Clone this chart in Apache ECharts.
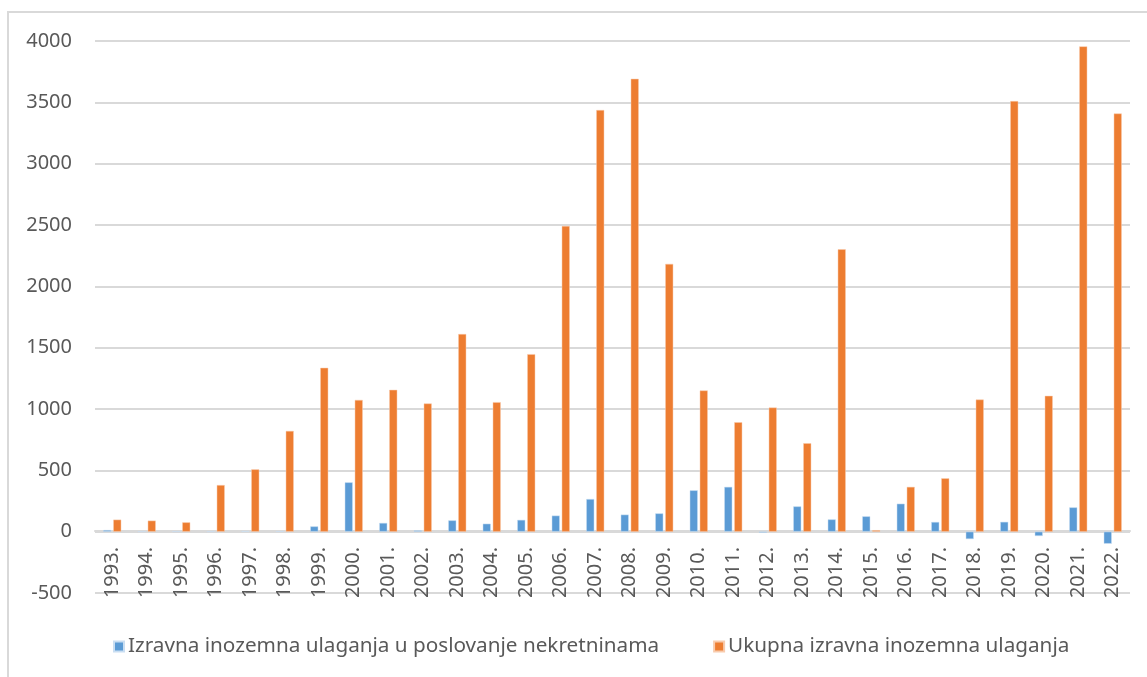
<!DOCTYPE html>
<html>
<head>
<meta charset="utf-8">
<script src="https://cdn.jsdelivr.net/npm/echarts@6/dist/echarts.min.js"></script>
<style>
  html, body { margin: 0; padding: 0; background: #fff; }
  #frame { position: absolute; left: 7px; top: 11px; width: 1160px; height: 700px; border: 2px solid #d9d9d9; box-sizing: border-box; }
  #chart { position: absolute; left: 0; top: 0; width: 1147px; height: 677px; }
</style>
</head>
<body>
<div id="frame"></div>
<div id="chart"></div>
<script>
  // godine (kategorije)
  const years = ['1993.', '1994.', '1995.', '1996.', '1997.', '1998.', '1999.', '2000.', '2001.', '2002.',
    '2003.', '2004.', '2005.', '2006.', '2007.', '2008.', '2009.', '2010.', '2011.', '2012.',
    '2013.', '2014.', '2015.', '2016.', '2017.', '2018.', '2019.', '2020.', '2021.', '2022.'];

  // ulaganja u poslovanje nekretninama (mil. EUR, očitano sa slike)
  const realEstate = [13, 0, 2, 0, 4, 3, 43, 402, 71, 10,
    92, 65, 96, 131, 266, 139, 149, 337, 365, -8,
    206, 100, 125, 228, 79, -60, 80, -35, 198, -98];

  // ukupna izravna inozemna ulaganja
  const totalFdi = [98, 90, 76, 380, 508, 821, 1336, 1074, 1156, 1045,
    1611, 1056, 1447, 2492, 3437, 3692, 2183, 1151, 892, 1012,
    721, 2302, 12, 365, 435, 1077, 3510, 1107, 3956, 3409];

  const seriesNames = ['Izravna inozemna ulaganja u poslovanje nekretninama', 'Ukupna izravna inozemna ulaganja'];

  const FONT = '"Noto Sans", sans-serif';
  const chart = echarts.init(document.getElementById('chart'));
  chart.setOption({
    animation: false,
    textStyle: { fontFamily: FONT },
    grid: { left: 95, right: 17, top: 41, bottom: 84, containLabel: false },
    legend: {
      data: seriesNames,
      left: 108, top: 631,
      itemWidth: 10, itemHeight: 10, itemGap: 54,
      icon: 'rect',
      textStyle: { fontSize: 20.7, color: '#595959', fontFamily: FONT, padding: [0, 0, 0, -1] }
    },
    xAxis: {
      type: 'category',
      data: years,
      // os kategorija sjedi na nuli, kao u Excelu
      offset: -62,
      axisLine: { onZero: false, lineStyle: { color: '#d9d9d9', width: 2 } },
      axisTick: { show: false },
      axisLabel: { rotate: 90, margin: 16, fontSize: 20, color: '#595959', interval: 0 }
    },
    yAxis: {
      type: 'value',
      min: -500, max: 4000, interval: 500,
      axisLine: { show: false },
      axisTick: { show: false },
      axisLabel: { fontSize: 20, color: '#595959', margin: 23, formatter: (v) => String(v) },
      splitLine: { lineStyle: { color: '#d9d9d9', width: 2 } }
    },
    series: [
      { name: seriesNames[0], type: 'bar', data: realEstate, barWidth: 8, barGap: '25%',
        itemStyle: { color: '#5b9bd5', borderColor: '#c9def2', borderWidth: 0.5 } },
      { name: seriesNames[1], type: 'bar', data: totalFdi, barWidth: 8,
        itemStyle: { color: '#ed7d31', borderColor: '#f8cbad', borderWidth: 0.5 } }
    ]
  });
</script>
</body>
</html>
